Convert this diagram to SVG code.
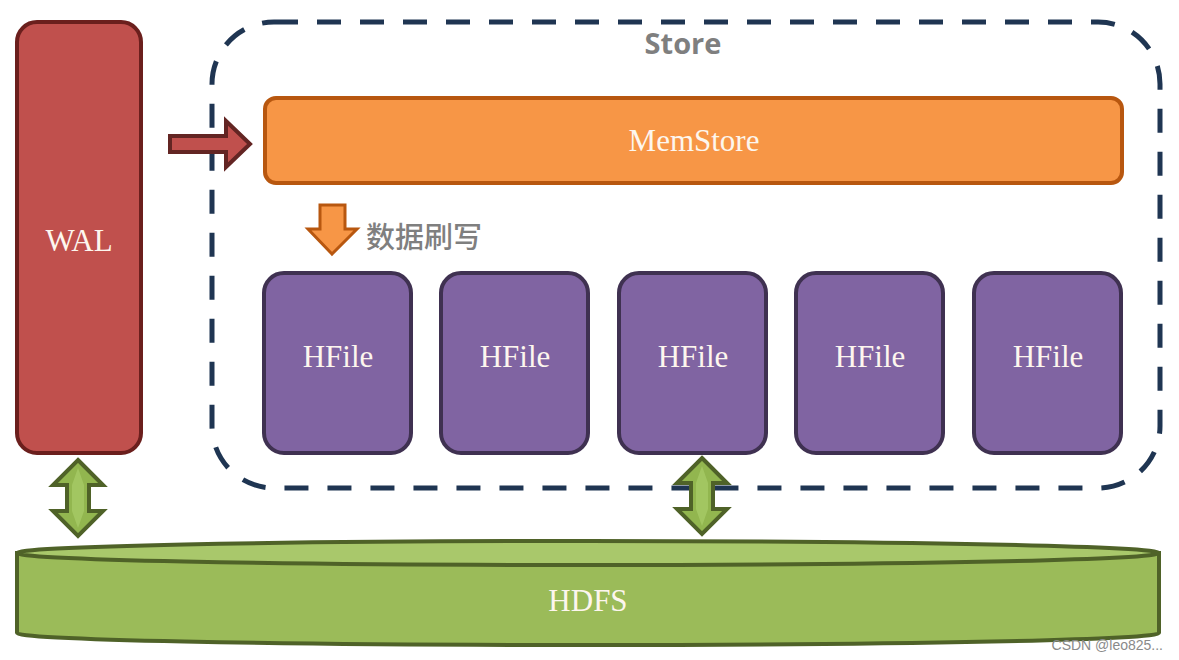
<svg xmlns="http://www.w3.org/2000/svg" width="1179" height="660" viewBox="0 0 1179 660">
<style>
.serif{font-family:"Liberation Serif","DejaVu Serif",serif;font-size:31px;fill:#fdf6ee;text-anchor:middle}
.hfile rect{fill:#8064a2;stroke:#3f3151;stroke-width:4}
.garrow{fill:#92b64f;stroke:#4f6228;stroke-width:4;stroke-linejoin:miter}
</style>
<rect width="1179" height="660" fill="#ffffff"/>
<g id="store">
<rect x="212" y="22" width="948" height="466" rx="62" fill="none" stroke="#1f3552" stroke-width="5" stroke-dasharray="24 19"/>
<text x="683" y="54" font-family="'Open Sans','DejaVu Sans',sans-serif" font-weight="bold" font-size="29" fill="#7f7f7f" text-anchor="middle">Store</text>
</g>
<g id="wal">
<rect x="17" y="22" width="124" height="431" rx="20" fill="#c0504d" stroke="#6b1f1d" stroke-width="4"/>
<text class="serif" x="79" y="251">WAL</text>
</g>
<g id="memstore">
<rect x="265" y="98" width="857" height="85" rx="11" fill="#f79646" stroke="#b8570f" stroke-width="4"/>
<text class="serif" x="694" y="151">MemStore</text>
</g>
<g id="hfile1" class="hfile"><rect x="264" y="273" width="147" height="180" rx="20"/><text class="serif" x="338" y="367">HFile</text></g>
<g id="hfile2" class="hfile"><rect x="441" y="273" width="147" height="180" rx="20"/><text class="serif" x="515" y="367">HFile</text></g>
<g id="hfile3" class="hfile"><rect x="619" y="273" width="147" height="180" rx="20"/><text class="serif" x="693" y="367">HFile</text></g>
<g id="hfile4" class="hfile"><rect x="796" y="273" width="147" height="180" rx="20"/><text class="serif" x="870" y="367">HFile</text></g>
<g id="hfile5" class="hfile"><rect x="974" y="273" width="147" height="180" rx="20"/><text class="serif" x="1048" y="367">HFile</text></g>
<g id="hdfs">
<path d="M17,553 L17,633 A571,12 0 0 0 1159,633 L1159,553 Z" fill="#9bbb59" stroke="#4f6228" stroke-width="4"/>
<ellipse cx="588" cy="553" rx="571" ry="12" fill="#a9c86b" stroke="#4f6228" stroke-width="4"/>
<text class="serif" x="588" y="611">HDFS</text>
</g>
<g id="connectors">
<path d="M170,136 L226,136 L226,121 L250,144 L226,167 L226,152 L170,152 Z" fill="#c0504d" stroke="#632523" stroke-width="4"/>
<path d="M320,205 L345,205 L345,229 L357,229 L332,254 L308,229 L320,229 Z" fill="#f79646" stroke="#b8570f" stroke-width="3"/>
<text x="366" y="248" font-family="'Noto Sans CJK SC',sans-serif" font-weight="500" font-size="29" fill="#7f7f7f">数据刷写</text>
<path class="garrow" d="M78,460 L103,485 L89,485 L89,511 L103,511 L78,536 L53,511 L67,511 L67,485 L53,485 Z"/>
<path d="M78,468 L84,485 L84,511 L78,528 L72,511 L72,485 Z" fill="#a9cd6a" opacity="0.7"/>
<path class="garrow" d="M702,458 L727,483 L713,483 L713,509 L727,509 L702,534 L677,509 L691,509 L691,483 L677,483 Z"/>
<path d="M702,466 L708,483 L708,509 L702,526 L696,509 L696,483 Z" fill="#a9cd6a" opacity="0.7"/>
</g>
<text x="1163" y="650" font-family="'Liberation Sans',sans-serif" font-size="14" fill="#8a8a8a" text-anchor="end">CSDN @leo825...</text>
</svg>
